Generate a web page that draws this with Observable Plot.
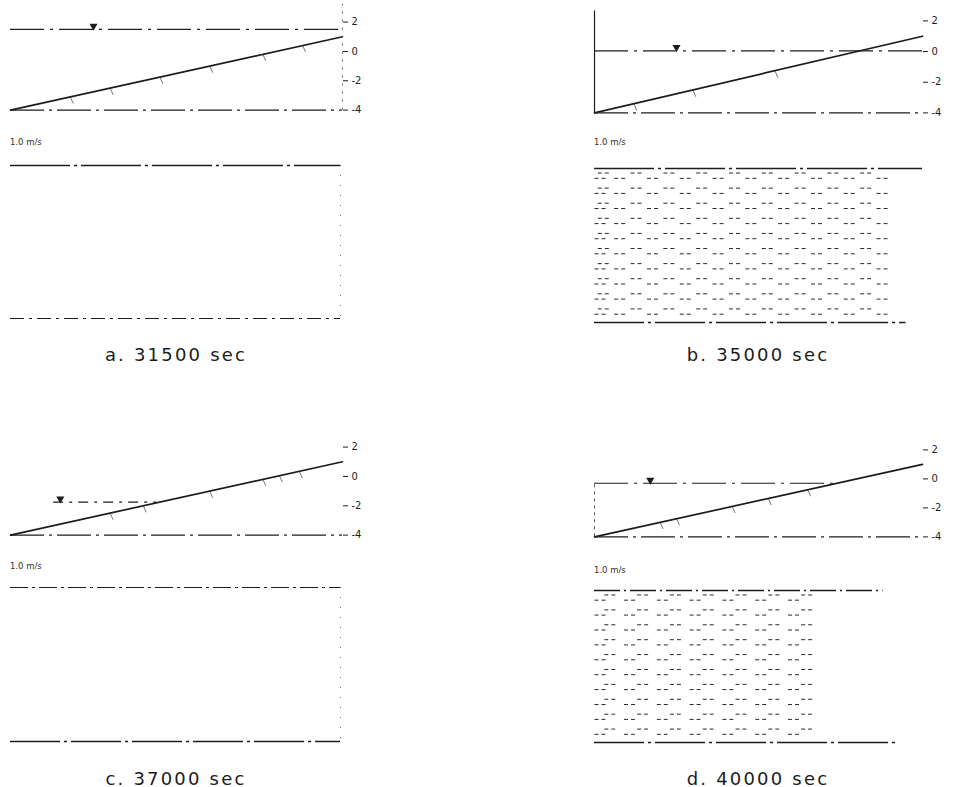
<!DOCTYPE html>
<html><head><meta charset="utf-8">
<script src="https://cdn.jsdelivr.net/npm/d3@7"></script>
<script src="https://cdn.jsdelivr.net/npm/@observablehq/plot@0.6"></script>
<style>
html,body{margin:0;padding:0;background:#fff;overflow:hidden;}
#root{position:relative;width:955px;height:787px;font-family:"DejaVu Sans",sans-serif;overflow:hidden;}
#root svg{position:absolute;overflow:visible;}
.cap{position:absolute;font-size:18px;letter-spacing:2.2px;color:#1c1c1c;transform:translate(-50%,-50%);white-space:nowrap;}
.scale{position:absolute;font-size:8.5px;font-weight:500;color:#333;transform:translateY(-50%);white-space:nowrap;}
</style></head><body><div id="root"></div>
<script>
// ---------- data ----------
const panelLetters = ["a", "b", "c", "d"];
const panelTimes = [31500, 35000, 37000, 40000];
const elevTicks = [2, 0, -2, -4];
const bedX = [0, 100];
const bedZ = [-4.0, 1.0];
const waterLevel = [1.5, 0.05, -1.75, -0.3];
const waterStart = [0, 0, 13, 0];
const waterEnd = [100, 100, 44, 73];
const markerX = [25, 25, 15, 17];
const hatchA = [18, 30, 45, 60, 76, 88];
const hatchB = [12, 30, 55];
const hatchC = [30, 40, 60, 76, 81, 87];
const hatchD = [20, 25, 42, 53, 65];
const rowsUpper = [0.3, 1.3, 2.3, 3.3, 4.3, 5.3, 6.3, 7.3, 8.3, 9.3];
const rowsLower = [0.65, 1.65, 2.65, 3.65, 4.65, 5.65, 6.65, 7.65, 8.65, 9.65];
const colsUpperB = [1, 11, 21, 31, 41, 51, 61, 71, 81];
const colsLowerB = [0, 6, 16, 26, 36, 46, 56, 66, 76, 86];
const colsUpperD = [3, 13, 23, 33, 43, 53, 63];
const colsLowerD = [0, 9, 19, 29, 39, 49, 59];
const speedB = [0.38, 0.38, 0.37, 0.37, 0.37, 0.36, 0.36, 0.35, 0.34, 0.34];
const speedD = [0.37, 0.37, 0.36, 0.36, 0.36, 0.35, 0.35, 0.34, 0.33, 0.33];
const speedLen = 10; // x-units per m/s

// ---------- layout ----------
const prof = [
  {xl: 10, xr: 342, y2: 22, y0: 110},
  {xl: 594, xr: 922, y2: 20, y0: 112},
  {xl: 10, xr: 342, y2: 447, y0: 535},
  {xl: 594, xr: 922, y2: 449, y0: 536}
];
const boxes = [
  {xl: 10, xr: 340, top: 165, bottom: 318},
  {xl: 594, xr: 922, top: 168, bottom: 322},
  {xl: 10, xr: 340, top: 587, bottom: 741},
  {xl: 594, xr: 922, top: 590, bottom: 742}
];
const scaleLbl = [{x: 10, y: 142}, {x: 594, y: 142}, {x: 10, y: 566}, {x: 594, y: 570}];
const capPos = [{x: 176, y: 354}, {x: 758, y: 354}, {x: 176, y: 778}, {x: 758, y: 778}];

const root = document.getElementById("root");
const ink = "#1c1c1c";
const bedAt = x => d3.scaleLinear().domain(bedX).range(bedZ)(x);
const hatches = [hatchA, hatchB, hatchC, hatchD];

function place(svg, left, top) {
  svg.style.left = left + "px";
  svg.style.top = top + "px";
  root.appendChild(svg);
}

function profile(i) {
  const g = prof[i];
  const unit = (g.y0 - g.y2) / 6;
  const zTop = 3.2;
  const mt = 2, mb = 8, ml = 4, mr = 40;
  const h = (zTop + 4) * unit + mt + mb;
  const w = (g.xr - g.xl) + ml + mr;
  const bed = bedX.map((x, j) => ({x, z: bedZ[j]}));
  const lvl = waterLevel[i];
  const marks = [
    Plot.ruleY([-4], {x1: 0, x2: 100, stroke: ink, strokeWidth: 1.3, strokeDasharray: "34,5,3,5"}),
    Plot.ruleY([lvl], {x1: waterStart[i], x2: waterEnd[i], stroke: ink, strokeWidth: 1.2, strokeDasharray: i === 2 ? "10,6,3,6" : "34,6,3,6"}),
    Plot.link(hatches[i], {x1: d => d, y1: d => bedAt(d), x2: d => d + 0.9, y2: d => bedAt(d) - 0.45, stroke: "#555", strokeWidth: 0.8}),
    Plot.line(bed, {x: "x", y: "z", stroke: ink, strokeWidth: 1.7}),
    Plot.dot([markerX[i]], {x: d => d, y: lvl + 0.22, symbol: "triangle", rotate: 180, r: 3, fill: ink, stroke: "none"}),
    Plot.axisY(elevTicks, {anchor: "right", label: null, tickSize: 5, tickPadding: 4, tickFormat: d => String(d), fontSize: 10, stroke: ink})
  ];
  if (i === 0) marks.push(Plot.ruleX([100], {y1: -4, y2: zTop, stroke: "#666", strokeWidth: 1, strokeDasharray: "2,6"}));
  if (i === 1) marks.push(Plot.ruleX([0], {y1: -4, y2: 2.65, stroke: ink, strokeWidth: 1.2}));
  if (i === 3) marks.push(Plot.ruleX([0], {y1: -4, y2: lvl, stroke: "#555", strokeWidth: 1, strokeDasharray: "3,4"}));
  const svg = Plot.plot({
    width: w, height: h, marginTop: mt, marginBottom: mb, marginLeft: ml, marginRight: mr,
    x: {domain: [0, 100], axis: null},
    y: {domain: [-4, zTop], axis: null},
    style: {background: "transparent", fontFamily: "DejaVu Sans, sans-serif", color: ink},
    marks
  });
  place(svg, g.xl - ml, g.y0 - (zTop + 4) * unit - mt);
}

function vectorBox(i) {
  const g = boxes[i];
  const mt = 2, mb = 2, ml = 4, mr = 4;
  const w = (g.xr - g.xl) + ml + mr;
  const h = (g.bottom - g.top) + mt + mb;
  let vecs = [];
  if (i === 1 || i === 3) {
    const cu = i === 1 ? colsUpperB : colsUpperD;
    const cl = i === 1 ? colsLowerB : colsLowerD;
    const sp = i === 1 ? speedB : speedD;
    rowsUpper.forEach((r, k) => cu.forEach(c => vecs.push({x: c, y: r, u: sp[k]})));
    rowsLower.forEach((r, k) => cl.forEach(c => vecs.push({x: c, y: r, u: sp[k]})));
  }
  const marks = [
    Plot.ruleY([0], {x1: 0, x2: i === 3 ? 88 : 100, stroke: ink, strokeWidth: i === 2 ? 1 : 1.5, strokeDasharray: i === 2 ? "18,4,3,4" : (i === 3 ? "26,4,2,4" : "60,4,3,4")}),
    Plot.ruleY([10.2], {x1: 0, x2: i === 1 ? 95 : (i === 3 ? 92 : 100), stroke: ink, strokeWidth: i === 0 ? 1.1 : 1.5, strokeDasharray: i === 0 ? "14,5,3,5" : "50,4,3,4"}),
    Plot.link(vecs, {x1: "x", x2: d => d.x + d.u * speedLen, y1: "y", y2: "y", stroke: "#2a2a2a", strokeWidth: 1, strokeDasharray: "4,3"})
  ];
  if (i === 0 || i === 2) marks.push(Plot.ruleX([100], {y1: 0, y2: 10.2, stroke: "#777", strokeWidth: 1, strokeDasharray: "1,9"}));
  const svg = Plot.plot({
    width: w, height: h, marginTop: mt, marginBottom: mb, marginLeft: ml, marginRight: mr,
    x: {domain: [0, 100], axis: null},
    y: {domain: [10.2, 0], axis: null},
    style: {background: "transparent"},
    marks
  });
  place(svg, g.xl - ml, g.top - mt);
}

for (let i = 0; i < 4; i++) {
  profile(i);
  vectorBox(i);
  const s = document.createElement("div");
  s.className = "scale";
  s.textContent = "1.0 m/s";
  s.style.left = scaleLbl[i].x + "px";
  s.style.top = scaleLbl[i].y + "px";
  root.appendChild(s);
  const c = document.createElement("div");
  c.className = "cap";
  c.textContent = panelLetters[i] + ". " + panelTimes[i] + " sec";
  c.style.left = capPos[i].x + "px";
  c.style.top = capPos[i].y + "px";
  root.appendChild(c);
}
</script></body></html>
